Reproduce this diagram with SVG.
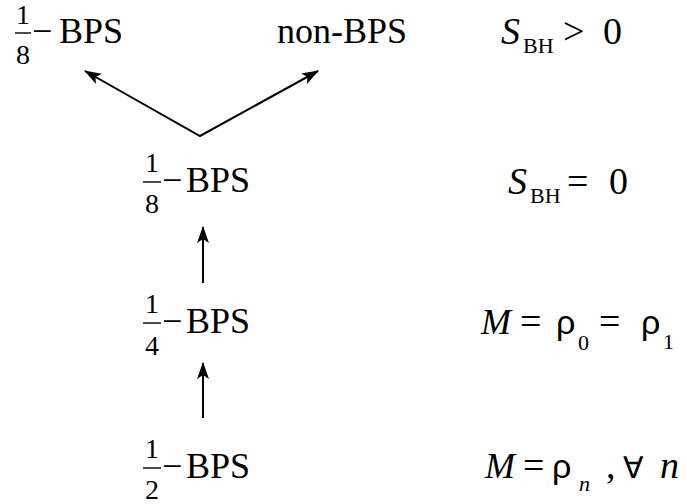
<svg xmlns="http://www.w3.org/2000/svg" width="687" height="504" viewBox="0 0 687 504">
<style>
text{font-family:'Liberation Serif','Times New Roman',serif;fill:#000}
.m{font-size:36px}
.d{font-size:28px;text-anchor:middle}
.r{font-size:38px}
.i{font-style:italic}
.s{font-size:22px}
.g{font-family:'Liberation Sans',Arial,sans-serif;font-size:34px}
.fa{font-family:'DejaVu Sans',sans-serif;font-size:30px}
.bar{stroke:#000;stroke-width:1.4}
.c{stroke:#000;stroke-width:2;fill:none}
</style>
<defs>
<marker id="ah" viewBox="-18 -7 20 14" markerWidth="20" markerHeight="14" refX="0" refY="0" orient="auto-start-reverse" markerUnits="userSpaceOnUse">
<path d="M1,0 L-16,-6 L-12,0 L-16,6 Z" fill="#000"/>
</marker>
</defs>
<g id="connectors">
<polyline class="c" points="85,71 200,136 318,71" marker-start="url(#ah)" marker-end="url(#ah)"/>
<line class="c" x1="203" y1="283" x2="203" y2="227" marker-end="url(#ah)"/>
<line class="c" x1="203" y1="418" x2="203" y2="363" marker-end="url(#ah)"/>
</g>
<g id="n-eighth-top">
<text class="d" x="23" y="24">1</text>
<line class="bar" x1="15" y1="33" x2="31" y2="33"/>
<text class="d" x="23" y="64">8</text>
<text class="m" x="32" y="43">−</text>
<text class="m" x="59" y="43">BPS</text>
</g>
<g id="n-nonbps">
<text class="m" x="277" y="43">non-BPS</text>
</g>
<g id="n-eighth">
<text class="d" x="152" y="172">1</text>
<line class="bar" x1="143" y1="182" x2="161" y2="182"/>
<text class="d" x="152" y="213">8</text>
<text class="m" x="162" y="192">−</text>
<text class="m" x="186" y="192">BPS</text>
</g>
<g id="n-quarter">
<text class="d" x="152" y="313">1</text>
<line class="bar" x1="143" y1="323" x2="161" y2="323"/>
<text class="d" x="152" y="355">4</text>
<text class="m" x="162" y="333">−</text>
<text class="m" x="186" y="333">BPS</text>
</g>
<g id="n-half">
<text class="d" x="152" y="458">1</text>
<line class="bar" x1="143" y1="468" x2="161" y2="468"/>
<text class="d" x="152" y="499">2</text>
<text class="m" x="162" y="478">−</text>
<text class="m" x="186" y="478">BPS</text>
</g>
<g id="c-sbh-pos">
<text class="r i" x="501" y="44">S</text>
<text class="s" x="523" y="53">BH</text>
<text class="r" x="563" y="44">&gt;</text>
<text class="r" x="603" y="44">0</text>
</g>
<g id="c-sbh-zero">
<text class="r i" x="508" y="194">S</text>
<text class="s" x="530" y="203">BH</text>
<text class="r" x="567" y="194">=</text>
<text class="r" x="609" y="194">0</text>
</g>
<g id="c-mass-rho01">
<text class="m i" x="481" y="334">M</text>
<text class="r" x="520" y="334">=</text>
<text class="g" x="556" y="334">ρ</text>
<text class="s" x="578" y="350">0</text>
<text class="r" x="599" y="334">=</text>
<text class="g" x="641" y="334">ρ</text>
<text class="s" x="663" y="349">1</text>
</g>
<g id="c-mass-rhon">
<text class="m i" x="485" y="478">M</text>
<text class="r" x="523" y="478">=</text>
<text class="g" x="552" y="478">ρ</text>
<text class="s i" x="579" y="491">n</text>
<text class="r" x="606" y="478">,</text>
<text class="fa" x="623" y="478">∀</text>
<text class="r i" x="660" y="478">n</text>
</g>
</svg>
